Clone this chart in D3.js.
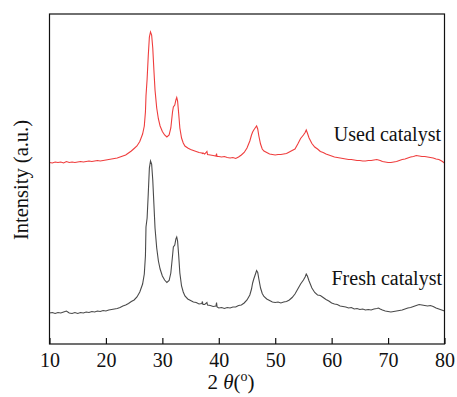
<!DOCTYPE html>
<html>
<head>
<meta charset="utf-8">
<script src="https://cdn.jsdelivr.net/npm/d3@7"></script>
<style>
  body { margin: 0; background: #fff; }
  svg text { font-family: "Times New Roman", "Liberation Serif", Tinos, Times, "DejaVu Serif", serif !important; fill: #111; }
</style>
</head>
<body>
<script>
// 2 theta grid shared by both patterns (denser around the peaks)
const twoTheta = [
  10, 10.5, 11, 11.5, 12, 12.5, 13, 13.5, 14, 14.5, 15, 15.5, 16, 16.5, 17, 17.5, 18, 18.5, 19, 19.5, 20, 20.5, 21, 21.5, 22, 22.5, 23, 23.5, 24, 24.5, 25, 25.5, 26, 26.5,
  26.8, 27, 27.1, 27.3, 27.5, 27.7, 27.9, 28.1, 28.3, 28.5, 28.7, 29, 29.3, 29.6, 30, 30.4, 30.8, 31.2, 31.5, 31.8, 31.95, 32.2, 32.4, 32.55, 32.7, 32.9, 33.1, 33.4, 33.7,
  34, 34.5, 35, 35.5, 36, 36.5, 37, 37.1, 37.2, 37.5, 37.9, 38, 38.5, 39, 39.5, 39.6, 39.7, 40,
  40.5, 41, 41.5, 42, 42.5, 43, 43.5, 44, 44.5, 45, 45.5,
  45.8, 46, 46.2, 46.5, 46.7, 46.9, 47.1, 47.4, 47.7, 48,
  48.5, 49, 49.5, 50, 50.5, 51, 51.5, 52, 52.5, 53, 53.5, 54, 54.5, 55,
  55.3, 55.5, 55.7, 56,
  56.5, 57, 57.5, 58, 58.5, 59, 59.5, 60, 60.5, 61, 61.5, 62, 62.5, 63, 63.5, 64, 64.5, 65, 65.5, 66, 66.5, 67, 67.5, 68,
  68.3, 68.6, 69,
  69.5, 70, 70.5, 71, 71.5, 72, 72.5, 73, 73.5, 74, 74.5, 75, 75.5, 76, 76.5, 77, 77.5, 78, 78.5, 79, 79.5, 80
];

const fresh = [
  31, 31.5, 30.5, 31.5, 31, 32, 33, 31, 30.5, 31.5, 30.5, 31.5, 31, 32, 31.5, 32.5, 32, 33, 32.5, 33.5, 33, 34, 34.5, 35, 35.5, 36.5, 38, 39, 40.5, 42.5, 44, 47, 52, 60,
  70, 88, 117, 126, 150, 176, 183, 180, 164, 140, 116, 96, 83, 75, 68, 64, 61.5, 63.5, 71, 88, 97, 99, 105, 107, 103, 88, 71, 58, 52,
  48, 45, 43.5, 42, 41.5, 40, 40.5, 42.5, 39.5, 39.5, 41.5, 39, 38.5, 37.5, 38, 41.5, 37, 36,
  36.5, 35.5, 36.5, 36, 37, 37, 38.5, 39, 41, 44, 49,
  55, 61, 65, 70, 73.5, 71.5, 65, 56, 50.5, 47.5,
  45, 43.5, 42, 41.5, 42, 41, 42, 42.5, 44, 46.5, 50, 55, 60, 64,
  67, 70, 68, 63,
  56, 51.5, 49, 48.5, 46.5, 44.5, 43, 41, 40, 39.5, 38, 37.5, 37, 36, 36.5, 35, 35.5, 34.5, 35, 34, 34.5, 34, 35, 35.5,
  36, 35, 34,
  33, 32.5, 32, 32.5, 33, 33.5, 34, 35, 36, 36.5, 37.5, 38.5, 39.5, 39, 38.5, 38, 38.5, 37.5, 36, 35, 34, 33
];

const used = [
  31.5, 31, 32, 31.5, 32, 31, 32.5, 31.5, 32, 31.5, 32, 32.5, 32, 32.5, 33, 32.5, 33, 33.5, 33, 33.5, 34, 34.5, 35, 35.5, 36, 37, 38, 39, 41, 43, 45.5, 48, 52.5, 60,
  68, 82, 98, 115, 138, 157, 162, 159, 146, 124, 104, 86, 75, 68, 62.5, 59, 57, 59, 66, 82, 87, 89, 94, 96.5, 93, 80, 66, 56, 51,
  48, 46, 44.5, 43.5, 42.5, 41.5, 41, 40.5, 41, 40, 42.5, 39.5, 39, 38.5, 38, 40.5, 37.5, 37.5,
  37, 37.5, 36.5, 36, 36.5, 35.5, 37, 39, 41.5, 46, 53,
  59, 62, 64, 66.5, 68, 65, 58, 50, 45, 43,
  41.5, 40, 39.5, 39, 39.5, 39.5, 40, 40.5, 42, 43.5, 45, 50, 55.5, 59,
  61.5, 64, 61, 56,
  50.5, 47, 45, 42.5, 41.5, 40, 39, 38, 37, 36.5, 36, 35.5, 35, 34.5, 34.5, 34, 33.5, 33.5, 33, 33, 33.5, 33.5, 34, 34.5,
  34, 33.5, 32.5,
  32, 31.5, 31.5, 32, 32.5, 33.5, 34.5, 35, 36, 37, 37.5, 38.5, 38, 37.5, 37.5, 37, 36.5, 36, 35, 34.5, 33, 31
];

const OFFSET = 150; // vertical shift of the used-catalyst pattern
const xTicks = [10, 20, 30, 40, 50, 60, 70, 80];

const W = 457, H = 397;
const margin = { top: 14, right: 12.5, bottom: 53, left: 49.5 };

const svg = d3.select("body").append("svg").attr("width", W).attr("height", H);

const x = d3.scaleLinear().domain([10, 80]).range([margin.left, W - margin.right]);
const y = d3.scaleLinear().domain([0, 330]).range([H - margin.bottom, margin.top]);

svg.append("defs").append("clipPath").attr("id", "plot")
  .append("rect")
  .attr("x", x(10)).attr("y", y(330))
  .attr("width", x(80) - x(10)).attr("height", y(0) - y(330));

const line = (offset) => d3.line()
  .x((d) => x(d[0]))
  .y((d) => y(d[1] + offset));

const g = svg.append("g").attr("clip-path", "url(#plot)");

g.append("path")
  .datum(d3.zip(twoTheta, fresh))
  .attr("fill", "none")
  .attr("stroke", "#4a4a4a")
  .attr("stroke-width", 1.1)
  .attr("d", line(0));

g.append("path")
  .datum(d3.zip(twoTheta, used))
  .attr("fill", "none")
  .attr("stroke", "#ef3d3d")
  .attr("stroke-width", 1.1)
  .attr("d", line(OFFSET));

// frame
svg.append("rect")
  .attr("x", x(10)).attr("y", y(330))
  .attr("width", x(80) - x(10)).attr("height", y(0) - y(330))
  .attr("fill", "none").attr("stroke", "#111").attr("stroke-width", 1.2);

// bottom axis, ticks pointing inward
const xAxis = svg.append("g")
  .attr("transform", `translate(0,${y(0)})`)
  .call(d3.axisBottom(x).tickValues(xTicks).tickSizeInner(-6).tickSizeOuter(0).tickPadding(9));
xAxis.attr("font-family", null).attr("font-size", 20);
xAxis.select(".domain").remove();
xAxis.selectAll(".tick line").attr("stroke", "#111").attr("stroke-width", 1.2);
xAxis.selectAll(".tick text").attr("fill", "#111");

// axis titles
const xt = svg.append("text")
  .attr("x", 231).attr("y", 389)
  .attr("text-anchor", "middle")
  .attr("font-size", 21);
xt.append("tspan").text("2 ");
xt.append("tspan").attr("font-style", "italic").text("θ");
xt.append("tspan").text("(");
xt.append("tspan").attr("font-size", 14).attr("dy", -8).text("o");
xt.append("tspan").attr("dy", 8).text(")");

svg.append("text")
  .attr("transform", `translate(28,${180}) rotate(-90)`)
  .attr("text-anchor", "middle")
  .attr("font-size", 20.5)
  .text("Intensity (a.u.)");

// series labels
svg.append("text")
  .attr("x", 441).attr("y", y(used[twoTheta.length - 1] + OFFSET) - 22)
  .attr("text-anchor", "end")
  .attr("font-size", 20)
  .text("Used catalyst");

svg.append("text")
  .attr("x", 442).attr("y", y(fresh[twoTheta.length - 1]) - 26)
  .attr("text-anchor", "end")
  .attr("font-size", 20)
  .text("Fresh catalyst");
</script>
</body>
</html>
